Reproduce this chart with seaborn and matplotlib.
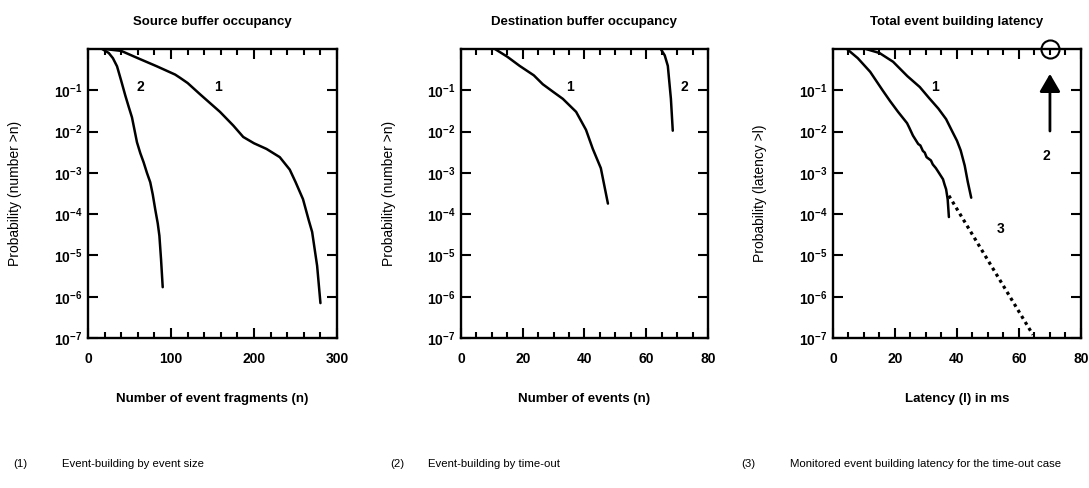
import matplotlib
matplotlib.use("Agg")
import matplotlib.pyplot as plt
from matplotlib.ticker import MultipleLocator, NullLocator
import pandas as pd
import seaborn as sns

# ---- Source buffer occupancy: P(number > n) ----
src_size_n = [20, 40, 60, 83, 105, 111, 120, 135, 159, 175, 187, 200, 215, 231, 243, 250, 259, 266, 270, 276, 280]
src_size_p = [1.0, 0.9, 0.6, 0.38, 0.24, 0.2, 0.15, 0.08, 0.03, 0.014, 0.0074, 0.0052, 0.0038, 0.0024,
              0.0012, 6e-4, 2.3e-4, 7e-5, 3.7e-5, 5.6e-6, 7e-7]
src_timeout_n = [17, 25, 30, 35, 40, 45, 49, 53, 56, 59, 63, 67, 71, 75, 78, 81, 84, 86, 88, 90]
src_timeout_p = [1.0, 0.8, 0.6, 0.38, 0.17, 0.074, 0.04, 0.022, 0.011, 0.0055, 0.003, 0.0018, 0.001,
                 5.9e-4, 3e-4, 1.3e-4, 6e-5, 3e-5, 8e-6, 1.7e-6]

# ---- Destination buffer occupancy: P(number > n) ----
dst_size_n = [11, 15, 19, 23.6, 26.5, 30, 33, 37.3, 40.5, 42.7, 45.3, 47.6]
dst_size_p = [1.0, 0.65, 0.39, 0.23, 0.14, 0.09, 0.062, 0.03, 0.011, 0.0038, 0.0013, 1.8e-4]
dst_timeout_n = [64.7, 66, 67, 67.5, 68, 68.6]
dst_timeout_p = [1.0, 0.7, 0.39, 0.155, 0.062, 0.0105]

# ---- Total event building latency: P(latency > l) ----
lat_size_l = [10.6, 15, 19.4, 24, 28, 31, 34, 36.5, 38.5, 40, 41.2, 42.5, 43.5, 44.6]
lat_size_p = [1.0, 0.8, 0.49, 0.22, 0.12, 0.065, 0.036, 0.02, 0.01, 0.006, 0.0035, 0.0015, 6e-4, 2.5e-4]
lat_mon_l = [4.5, 8, 12, 16, 18.4, 21, 23.9, 24.6, 25.8, 27.5, 28.2, 29, 29.6, 30.2, 31.6, 32.2,
             33.2, 34.0, 35.5, 36.0, 36.5, 37.0, 37.4]
lat_mon_p = [1.0, 0.6, 0.28, 0.1, 0.055, 0.03, 0.016, 0.0125, 0.008, 0.005, 0.0046, 0.0034, 0.0031,
             0.0024, 0.002, 0.0016, 0.0013, 0.00105, 7e-4, 5.2e-4, 4e-4, 2.3e-4, 8.5e-5]
lat_extrap_l = [37.4, 64.5]
lat_extrap_p = [2.8e-4, 1.2e-7]

titles = ["Source buffer occupancy", "Destination buffer occupancy", "Total event building latency"]
xlabels = ["Number of event fragments (n)", "Number of events (n)", "Latency (l) in ms"]
ylabels = ["Probability (number >n)", "Probability (number >n)", "Probability (latency >l)"]
decades = [1e-1, 1e-2, 1e-3, 1e-4, 1e-5, 1e-6, 1e-7]
decade_labels = [r"$\mathbf{10^{-%d}}$" % k for k in range(1, 8)]
notes = [("(1)", "Event-building by event size"),
         ("(2)", "Event-building by time-out"),
         ("(3)", "Monitored event building latency for the time-out case")]

sns.set_theme(style="ticks")
plt.rcParams["font.family"] = ["Liberation Sans", "DejaVu Sans"]
plt.rcParams["mathtext.fontset"] = "custom"
plt.rcParams["mathtext.rm"] = "Liberation Sans"
plt.rcParams["mathtext.bf"] = "Liberation Sans:bold"
for key in ["text.color", "axes.labelcolor", "xtick.color", "ytick.color", "axes.edgecolor"]:
    plt.rcParams[key] = "black"

fig = plt.figure(figsize=(10.89, 4.88), dpi=100)
lefts = [0.0808, 0.4233, 0.7649]
widths = [0.2287, 0.2268, 0.2277]
axes = [fig.add_axes([l, 0.3074, w, 0.5922]) for l, w in zip(lefts, widths)]

def curve(ax, x, y, **kw):
    df = pd.DataFrame({"x": x, "p": y})
    sns.lineplot(data=df, x="x", y="p", ax=ax, color="black", estimator=None,
                 sort=False, legend=False, **kw)

ax1, ax2, ax3 = axes
curve(ax1, src_size_n, src_size_p, lw=1.8)
curve(ax1, src_timeout_n, src_timeout_p, lw=1.8)
curve(ax2, dst_size_n, dst_size_p, lw=1.8)
curve(ax2, dst_timeout_n, dst_timeout_p, lw=1.8)
curve(ax3, lat_size_l, lat_size_p, lw=1.8)
curve(ax3, lat_mon_l, lat_mon_p, lw=1.8)
curve(ax3, lat_extrap_l, lat_extrap_p, lw=2.3, dashes=(1.0, 1.2))

xlims = [300, 80, 80]
majors = [100, 20, 20]
minors = [20, 5, 5]
for ax, t, xl, yl, xm, mj, mn in zip(axes, titles, xlabels, ylabels, xlims, majors, minors):
    ax.set_yscale("log")
    ax.set_ylim(1e-7, 1)
    ax.set_xlim(0, xm)
    ax.set_yticks(decades)
    ax.set_yticklabels(decade_labels)
    ax.yaxis.set_minor_locator(NullLocator())
    ax.xaxis.set_major_locator(MultipleLocator(mj))
    ax.xaxis.set_minor_locator(MultipleLocator(mn))
    ax.tick_params(which="both", direction="in", top=True, right=True, width=1.5, colors="black")
    ax.tick_params(which="major", length=7)
    ax.tick_params(which="minor", length=4)
    ax.tick_params(axis="x", pad=10, labelsize=10)
    ax.tick_params(axis="y", pad=4, labelsize=10)
    for lab in ax.get_xticklabels():
        lab.set_fontweight("bold")
    for s in ax.spines.values():
        s.set_linewidth(1.7)
        s.set_color("black")
    ax.set_title(t, fontsize=9.5, fontweight="bold", pad=17, color="black")
    ax.set_xlabel(xl, fontsize=9.5, fontweight="bold", color="black")
    ax.set_ylabel(yl, fontsize=10, color="black")
    ax.xaxis.set_label_coords(0.5, -0.19)
    ax.yaxis.set_label_coords(-0.265, 0.5)
    ax.grid(False)

lab_kw = dict(fontsize=10, fontweight="bold", ha="center", va="center", color="black")
ax1.text(63, 0.12, "2", **lab_kw)
ax1.text(157, 0.12, "1", **lab_kw)
ax2.text(35.3, 0.12, "1", **lab_kw)
ax2.text(72.5, 0.12, "2", **lab_kw)
ax3.text(33, 0.12, "1", **lab_kw)
ax3.text(54, 4.4e-5, "3", **lab_kw)
ax3.text(68.7, 0.0025, "2", **lab_kw)

# time-out latency sits off the scale: marked with a circle and an arrow
ax3.plot([70], [1.0], marker="o", ms=13, mfc="none", mec="black", mew=1.5, clip_on=False)
ax3.annotate("", xy=(70, 0.25), xytext=(70, 0.0103),
             arrowprops=dict(arrowstyle="-|>,head_length=0.6,head_width=0.35", lw=2,
                             color="black", mutation_scale=18, shrinkA=0, shrinkB=0))

note_y = 0.049
for (tag, text), xt, xx in zip(notes, [0.012, 0.358, 0.681], [0.057, 0.393, 0.725]):
    fig.text(xt, note_y, tag, fontsize=8.2, va="center", color="black")
    fig.text(xx, note_y, text, fontsize=8.2, va="center", color="black")

fig.savefig("out.png", dpi=100)
